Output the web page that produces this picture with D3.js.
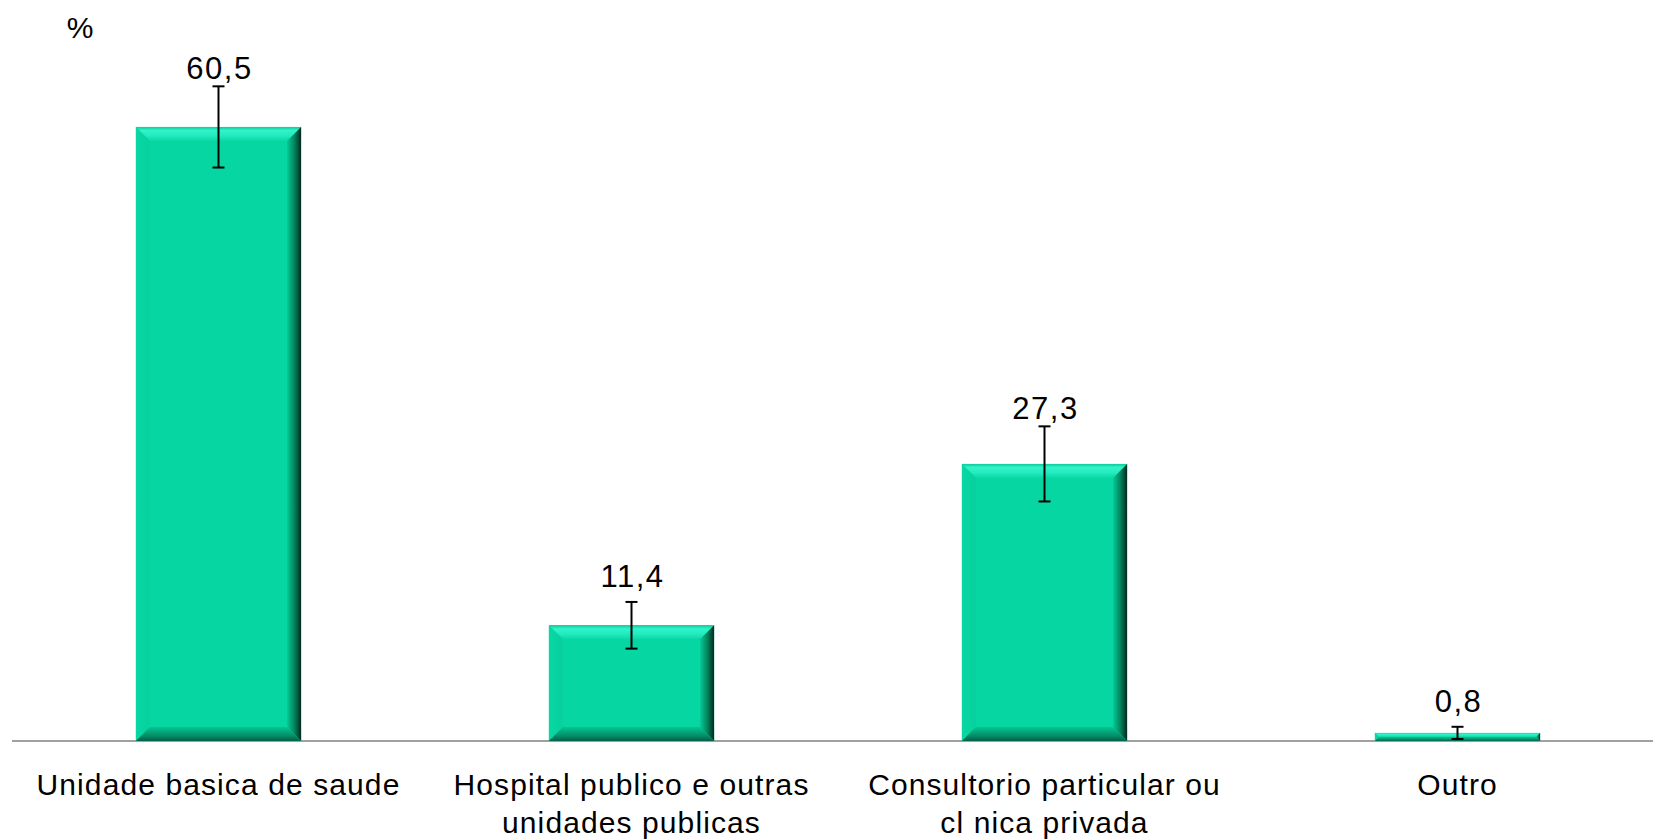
<!DOCTYPE html>
<html><head><meta charset="utf-8">
<script src="https://cdn.jsdelivr.net/npm/d3@7"></script>
<style>html,body{margin:0;padding:0;background:#fff;overflow:hidden}</style>
</head><body>
<svg id="chart" width="1653" height="839"></svg>
<script>
const categories = [
  ["Unidade basica de saude"],
  ["Hospital publico e outras", "unidades publicas"],
  ["Consultorio particular ou", "cl nica privada"],
  ["Outro"]
];
const values = [60.5, 11.4, 27.3, 0.8];
const valueLabels = ["60,5", "11,4", "27,3", "0,8"];
const errors = [4.0, 2.3, 3.7, 0.6];
const yUnit = "%";

const W = 1653, H = 839;
const svg = d3.select("#chart");
const font = "'Liberation Sans', Arial, sans-serif";

const x = d3.scaleBand().domain(d3.range(values.length))
  .range([12, 1664]).paddingInner(0.6).paddingOuter(0.3);
const y = d3.scaleLinear().domain([0, 65]).range([741, 81.25]);

const defs = svg.append("defs");
const main = "#06d6a2";
function lg(id, x2, y2, stops) {
  const g = defs.append("linearGradient").attr("id", id)
    .attr("x1", 0).attr("y1", 0).attr("x2", x2).attr("y2", y2);
  stops.forEach(s => g.append("stop").attr("offset", s[0]).attr("stop-color", s[1]));
}
lg("gTop", 0, 1, [[0, "#0fc898"], [0.25, "#30f4cb"], [0.6, "#24ecbf"], [1, "#0bd8a6"]]);
lg("gRight", 1, 0, [[0, "#05c896"], [0.5, "#03885f"], [1, "#012a1e"]]);
lg("gBottom", 0, 1, [[0, "#06c593"], [0.6, "#049068"], [1, "#036048"]]);
lg("gLeft", 1, 0, [[0, "#08d8a4"], [1, "#07d09d"]]);

// axis baseline
svg.append("line").attr("x1", 12).attr("x2", W).attr("y1", y(0)).attr("y2", y(0))
  .attr("stroke", "#a0a0a0").attr("stroke-width", 2);

const bars = svg.append("g").selectAll("g").data(values).join("g");
bars.each(function (v, i) {
  const g = d3.select(this);
  const x0 = x(i), w = x.bandwidth(), y0 = y(v), h = y(0) - y(v);
  const b = Math.min(14, h / 2, w / 2);
  const x1 = x0 + w, y1 = y0 + h;
  g.append("rect").attr("x", x0).attr("y", y0).attr("width", w).attr("height", h).attr("fill", main);
  g.append("polygon").attr("points", [[x0, y0], [x1, y0], [x1 - b, y0 + b], [x0 + b, y0 + b]].join(" ")).attr("fill", "url(#gTop)");
  g.append("polygon").attr("points", [[x0, y0], [x0 + b, y0 + b], [x0 + b, y1 - b], [x0, y1]].join(" ")).attr("fill", "url(#gLeft)");
  g.append("polygon").attr("points", [[x1, y0], [x1, y1], [x1 - b, y1 - b], [x1 - b, y0 + b]].join(" ")).attr("fill", "url(#gRight)");
  g.append("polygon").attr("points", [[x0, y1], [x1, y1], [x1 - b, y1 - b], [x0 + b, y1 - b]].join(" ")).attr("fill", "url(#gBottom)");
});

// error bars
const eb = svg.append("g").attr("stroke", "#000").attr("stroke-width", 2);
values.forEach((v, i) => {
  const cx = x(i) + x.bandwidth() / 2;
  const hi = y(v + errors[i]), lo = y(Math.max(0, v - errors[i]));
  eb.append("line").attr("x1", cx).attr("x2", cx).attr("y1", hi).attr("y2", lo);
  eb.append("line").attr("x1", cx - 6).attr("x2", cx + 6).attr("y1", hi).attr("y2", hi);
  eb.append("line").attr("x1", cx - 6).attr("x2", cx + 6).attr("y1", lo).attr("y2", lo);
});

// value labels: above the bar, kept clear of the error bar cap
function labelY(d, i) {
  const hi = y(d + errors[i]);
  return Math.max(Math.min(hi - 7, y(d) - 43), hi - 15);
}
svg.append("g").selectAll("text").data(values).join("text")
  .attr("x", (d, i) => x(i) + x.bandwidth() / 2 + 1)
  .attr("y", labelY)
  .attr("text-anchor", "middle")
  .attr("font-family", font).attr("font-size", 31).attr("letter-spacing", 1.5)
  .attr("fill", "#000")
  .text((d, i) => valueLabels[i]);

// category labels
categories.forEach((lines, i) => {
  const t = svg.append("text").attr("text-anchor", "middle")
    .attr("font-family", font).attr("font-size", 30).attr("letter-spacing", 1.1)
    .attr("fill", "#000");
  lines.forEach((ln, j) => {
    t.append("tspan").attr("x", x(i) + x.bandwidth() / 2).attr("y", 795 + j * 38).text(ln);
  });
});

// unit label
svg.append("text").attr("x", 80).attr("y", 38).attr("text-anchor", "middle")
  .attr("font-family", font).attr("font-size", 30).attr("fill", "#000").text(yUnit);
</script>
</body></html>
